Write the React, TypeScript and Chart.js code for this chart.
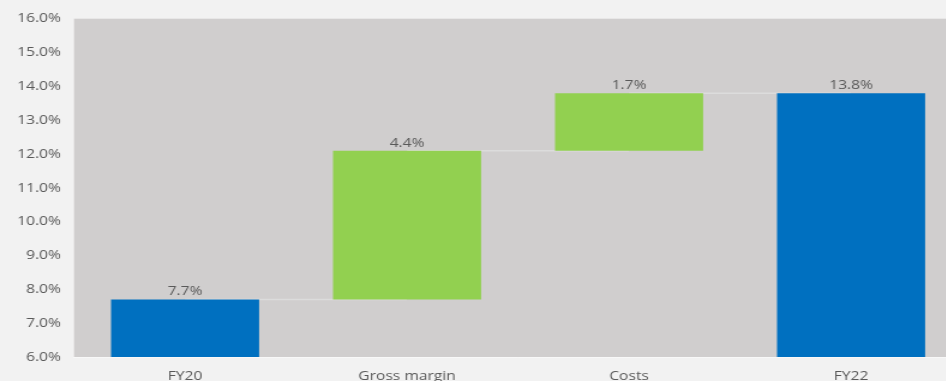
import React, { useEffect, useRef } from "react";
import { Chart, registerables } from "chart.js";

Chart.register(...registerables);

const categories = ["FY20", "Gross margin", "Costs", "FY22"];
const barStarts = [6, 7.7, 12.1, 6];
const barEnds = [7.7, 12.1, 13.8, 13.8];
const valueLabels = ["7.7%", "4.4%", "1.7%", "13.8%"];
const barColors = ["#0070c0", "#92d050", "#92d050", "#0070c0"];
const connector1 = [7.7, 7.7, null, null];
const connector2 = [null, 12.1, 12.1, null];
const connector3 = [null, null, 13.8, 13.8];

const TEXT = "#595959";
const FONT = "'Open Sans', 'Liberation Sans', sans-serif";
const STRETCH = 1.2;
const CW = 833;
const CH = 381;

const bgPlugin = {
  id: "plotBg",
  beforeDraw(chart: any) {
    const { ctx, chartArea } = chart;
    ctx.save();
    ctx.fillStyle = "#f2f2f2";
    ctx.fillRect(0, 0, chart.width, chart.height);
    ctx.fillStyle = "#d0cece";
    ctx.fillRect(chartArea.left, chartArea.top, chartArea.right - chartArea.left, chartArea.bottom - chartArea.top);
    ctx.restore();
  },
};

const labelPlugin = {
  id: "valueLabels",
  afterDatasetsDraw(chart: any) {
    const { ctx } = chart;
    const idx = chart.data.datasets.findIndex((d: any) => d.type === "bar");
    const meta = chart.getDatasetMeta(idx);
    ctx.save();
    ctx.fillStyle = TEXT;
    ctx.font = `13px ${FONT}`;
    ctx.textAlign = "center";
    ctx.textBaseline = "alphabetic";
    meta.data.forEach((el: any, i: number) => {
      const top = chart.scales.y.getPixelForValue(barEnds[i]);
      ctx.fillText(valueLabels[i], el.x, top - 4);
    });
    ctx.restore();
  },
};

export default function App() {
  const ref = useRef<HTMLCanvasElement>(null);
  useEffect(() => {
    if (!ref.current) return;
    const lineDs = (data: any[]) => ({
      type: "line" as const,
      data,
      borderColor: "#dcdcdc",
      borderWidth: 1.5,
      pointRadius: 0,
      order: 2,
      spanGaps: false,
    });
    const chart = new Chart(ref.current, {
      type: "bar",
      data: {
        labels: categories,
        datasets: [
          {
            type: "bar",
            data: barStarts.map((s, i) => [s, barEnds[i]]) as any,
            backgroundColor: barColors,
            barPercentage: 0.667,
            categoryPercentage: 1,
            order: 0,
          } as any,
          lineDs(connector1),
          lineDs(connector2),
          lineDs(connector3),
        ],
      },
      options: {
        responsive: false,
        animation: false,
        devicePixelRatio: 1,
        layout: { padding: { top: 14, right: 31.3, left: 0, bottom: 0 } },
        plugins: { legend: { display: false }, tooltip: { enabled: false } },
        scales: {
          x: {
            grid: { display: false, drawTicks: false },
            border: { display: true, color: "rgba(255,255,255,0.45)", width: 1 },
            ticks: { color: TEXT, font: { family: FONT, size: 13 }, padding: 11 },
            afterFit: (s: any) => {
              s.height = 24;
            },
          },
          y: {
            min: 6,
            max: 16,
            grid: { display: false, drawTicks: false },
            border: { display: false },
            ticks: {
              stepSize: 1,
              color: TEXT,
              font: { family: FONT, size: 13 },
              padding: 10.9,
              callback: (v: any) => Number(v).toFixed(1) + "%",
            },
            afterFit: (s: any) => {
              s.width = 61.7;
            },
          },
        },
      },
      plugins: [bgPlugin, labelPlugin],
    });
    return () => chart.destroy();
  }, []);
  return (
    <div
      style={{
        position: "fixed",
        left: 0,
        top: 0,
        width: 946,
        height: 381,
        overflow: "hidden",
        background: "#f2f2f2",
      }}
    >
      <div style={{ transform: `scaleX(${STRETCH})`, transformOrigin: "0 0", width: CW, height: CH }}>
        <canvas ref={ref} width={CW} height={CH} style={{ width: CW, height: CH, display: "block" }} />
      </div>
    </div>
  );
}
